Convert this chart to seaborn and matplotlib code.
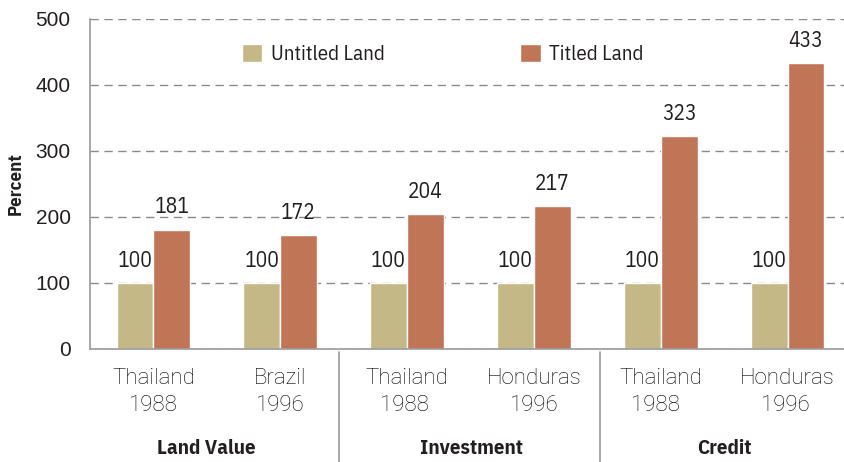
import matplotlib
matplotlib.use("Agg")
import matplotlib.pyplot as plt
import seaborn as sns
import pandas as pd

# data
places = ['Thailand\n1988', 'Brazil\n1996', 'Thailand\n1988 ', 'Honduras\n1996', 'Thailand\n1988  ', 'Honduras\n1996 ']
groups = ['Land Value', 'Investment', 'Credit']
group_pos = [0.42, 2.51, 4.5]
untitled = [100, 100, 100, 100, 100, 100]
titled = [181, 172, 204, 217, 323, 433]
series = ['Untitled Land', 'Titled Land']
colors = ['#C4B886', '#C07557']

df = pd.DataFrame({
    'place': places * 2,
    'value': untitled + titled,
    'series': [series[0]] * len(places) + [series[1]] * len(places),
})

narrow = ['IBM Plex Sans Condensed', 'DejaVu Sans']
dark = '#231f20'

sns.set_style('white')
plt.rcParams['font.family'] = ['Liberation Sans', 'DejaVu Sans']

fig = plt.figure(figsize=(8.44, 4.62), dpi=100)
ax = fig.add_axes([90 / 844, 113 / 462, 754 / 844, 330 / 462])

sns.barplot(data=df, x='place', y='value', hue='series', palette=colors,
            width=0.58, gap=0, saturation=1, ax=ax, legend=True)

for cont in ax.containers:
    ax.bar_label(cont, padding=8, fontsize=15.5, family=narrow, color=dark)

ax.set_xlim(-0.5, 5.445)
ax.set_ylim(0, 500)
ax.set_yticks([0, 100, 200, 300, 400, 500])
ax.yaxis.grid(True, ls=(0, (6, 4)), color='#8a8a8a', lw=1)
ax.set_axisbelow(True)
ax.tick_params(axis='y', length=0, labelsize=15, pad=14, labelcolor=dark)
ax.tick_params(axis='x', length=0, labelsize=16, pad=14, labelcolor='#000000')
for lab in ax.get_xticklabels():
    lab.set_fontfamily(['Roboto', 'DejaVu Sans'])
    lab.set_fontweight('light')
    lab.set_linespacing(1.35)

for s in ['top', 'right']:
    ax.spines[s].set_visible(False)
for s in ['left', 'bottom']:
    ax.spines[s].set_color('#9a9a9a')
    ax.spines[s].set_linewidth(1.2)

ax.set_xlabel('')
ax.set_ylabel('Percent', fontsize=13.5, fontweight='bold', family=narrow, labelpad=8, color=dark)

# group separators and labels below the axis
for xs in [1.46, 3.52]:
    ax.plot([xs, xs], [-0.01, -0.345], transform=ax.get_xaxis_transform(),
            color='#9a9a9a', lw=1.2, clip_on=False)
for g, gx in zip(groups, group_pos):
    ax.text(gx, -0.3, g, transform=ax.get_xaxis_transform(), ha='center', va='center',
            fontsize=15, fontweight='bold', family=narrow, color=dark)

leg = ax.legend(loc='upper left', bbox_to_anchor=(0.19, 0.95), ncol=2, frameon=False,
                handlelength=1.0, handleheight=1.0, handletextpad=0.4, columnspacing=6.5,
                borderaxespad=0, prop={'family': narrow, 'size': 15})
for t in leg.get_texts():
    t.set_color(dark)

fig.savefig('out.png', dpi=100)
